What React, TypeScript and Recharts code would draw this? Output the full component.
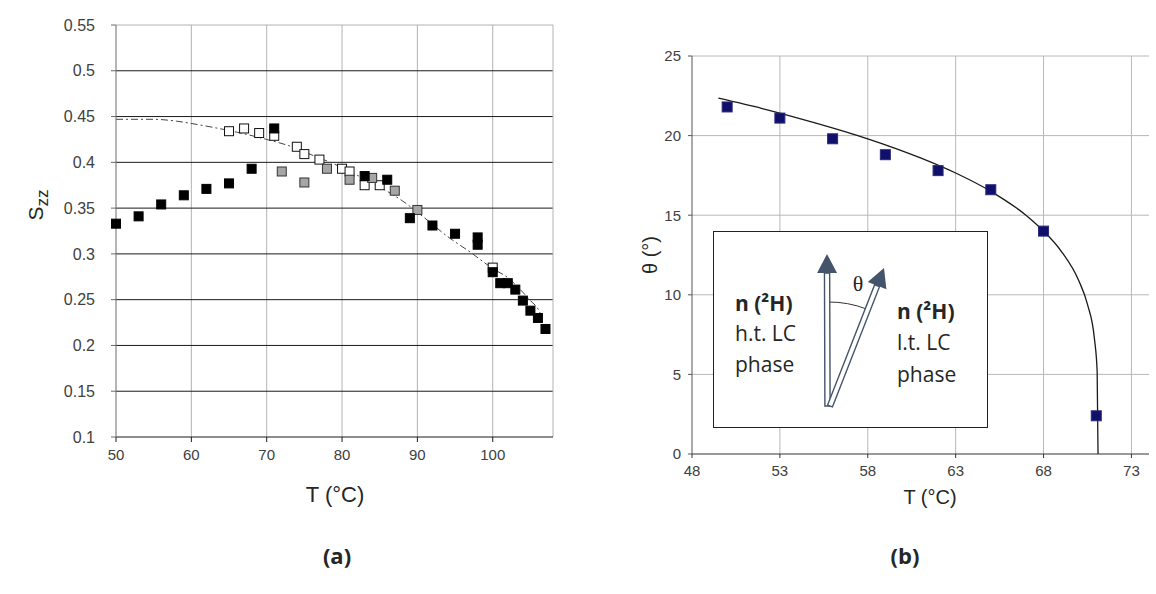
import React from 'react';
import {
  ComposedChart,
  Scatter,
  Line,
  XAxis,
  YAxis,
  CartesianGrid,
  ReferenceLine
} from 'recharts';

// (a) order parameter S_zz against temperature, three sample sets plus the dashed guide
const blackT = [50, 53, 56, 59, 62, 65, 68, 71, 83, 86, 89, 92, 95, 98, 98, 100, 101, 102, 103, 104, 105, 106, 107];
const blackS = [0.333, 0.341, 0.354, 0.364, 0.371, 0.377, 0.393, 0.437, 0.385, 0.381, 0.339, 0.331, 0.322, 0.318, 0.31, 0.28, 0.268, 0.268, 0.261, 0.249, 0.238, 0.23, 0.218];
const whiteT = [65, 67, 69, 71, 74, 75, 77, 80, 81, 83, 85, 100];
const whiteS = [0.434, 0.437, 0.432, 0.429, 0.417, 0.409, 0.403, 0.393, 0.39, 0.375, 0.375, 0.285];
const greyT = [72, 75, 78, 81, 84, 87, 90];
const greyS = [0.39, 0.378, 0.393, 0.381, 0.383, 0.369, 0.348];
const guideT = [50, 55, 58, 61, 63, 66, 70, 73, 76, 79, 82, 85, 88, 91, 94, 97, 100, 102, 104, 105, 106, 106.5];
const guideS = [0.447, 0.447, 0.445, 0.441, 0.438, 0.433, 0.425, 0.418, 0.408, 0.398, 0.386, 0.373, 0.358, 0.339, 0.319, 0.302, 0.284, 0.274, 0.258, 0.249, 0.24, 0.232];
const sTicksX = [50, 60, 70, 80, 90, 100];
const sTicksY = [0.1, 0.15, 0.2, 0.25, 0.3, 0.35, 0.4, 0.45, 0.5, 0.55];

// (b) tilt angle theta against temperature, with the fitted curve
const thetaT = [50, 53, 56, 59, 62, 65, 68, 71];
const thetaDeg = [21.8, 21.1, 19.8, 18.8, 17.8, 16.6, 14.0, 2.4];
const fitT = [49.5, 52, 55, 58, 61, 63, 65, 67, 68, 69, 70, 70.5, 70.9, 71.05, 71.1];
const fitDeg = [22.35, 21.7, 20.8, 19.8, 18.6, 17.65, 16.5, 15.0, 14.0, 12.75, 10.9, 9.4, 7.2, 5.2, 0];
const thTicksX = [48, 53, 58, 63, 68, 73];
const thTicksY = [0, 5, 10, 15, 20, 25];

const zip = (xs: number[], ys: number[]) => xs.map((t, i) => ({ t, v: ys[i] }));

const square = (fill: string, stroke: string, size: number) => (props: any) => (
  <rect
    x={props.cx - size / 2}
    y={props.cy - size / 2}
    width={size}
    height={size}
    fill={fill}
    stroke={stroke}
    strokeWidth={1}
  />
);

const SANS = '"Liberation Sans", Arial, sans-serif';
const CAL = '"Open Sans", sans-serif';
const SLATE = '#44546a';

// hollow double-line arrow with a solid head
const Arrow = ({ x0, y0, x1, y1 }: { x0: number; y0: number; x1: number; y1: number }) => {
  const len = Math.hypot(x1 - x0, y1 - y0);
  const ux = (x1 - x0) / len;
  const uy = (y1 - y0) / len;
  const px = -uy;
  const py = ux;
  const head = 19;
  const hw = 10;
  const sw = 2.6;
  const bx = x1 - ux * head;
  const by = y1 - uy * head;
  const shaft = [
    [x0 + px * sw, y0 + py * sw],
    [bx + px * sw, by + py * sw],
    [bx - px * sw, by - py * sw],
    [x0 - px * sw, y0 - py * sw]
  ].map((p) => p.join(',')).join(' ');
  const tri = [
    [x1, y1],
    [bx + px * hw, by + py * hw],
    [bx - px * hw, by - py * hw]
  ].map((p) => p.join(',')).join(' ');
  return (
    <g>
      <polygon points={shaft} fill="#fff" stroke={SLATE} strokeWidth={1.4} />
      <polygon points={tri} fill={SLATE} />
    </g>
  );
};

const Inset = () => (
  <div
    style={{
      position: 'absolute',
      left: 713,
      top: 231,
      width: 275,
      height: 197,
      boxSizing: 'border-box',
      border: '1px solid #222',
      background: '#fff'
    }}
  >
    <svg width={273} height={195} style={{ display: 'block' }}>
      <g fontFamily={CAL} fontSize={21} fill="#262626">
        <text x={21} y={79} fontWeight="bold">n (²H)</text>
        <text x={21} y={109}>h.t. LC</text>
        <text x={21} y={140}>phase</text>
        <text x={183} y={87} fontWeight="bold">n (²H)</text>
        <text x={183} y={118}>l.t. LC</text>
        <text x={183} y={150}>phase</text>
      </g>
      <path d="M 114 70 A 104 104 0 0 1 152.5 77" fill="none" stroke="#333" strokeWidth={1} />
      <Arrow x0={113.5} y0={174} x1={113} y1={22} />
      <Arrow x0={116} y0={174} x1={170} y1={36} />
      <text x={144} y={59} textAnchor="middle" fontFamily='"Liberation Serif", serif' fontSize={22} fill="#262626">
        θ
      </text>
    </svg>
  </div>
);

const Title = ({ x, y, children, rotate, style }: any) => (
  <div
    style={{
      position: 'absolute',
      left: x,
      top: y,
      transform: `translate(-50%, -50%)${rotate ? ' rotate(-90deg)' : ''}`,
      whiteSpace: 'nowrap',
      color: '#262626',
      fontFamily: SANS,
      fontSize: 21,
      ...style
    }}
  >
    {children}
  </div>
);

export default function App() {
  const black = zip(blackT, blackS);
  const white = zip(whiteT, whiteS);
  const grey = zip(greyT, greyS);
  const guide = zip(guideT, guideS);
  const points = zip(thetaT, thetaDeg);
  const fit = zip(fitT, fitDeg);

  return (
    <div style={{ position: 'absolute', left: 0, top: 0, width: 1156, height: 594, background: '#fff', overflow: 'hidden' }}>
      <div style={{ position: 'absolute', left: 0, top: 0 }}>
        <ComposedChart width={580} height={490} margin={{ top: 25, right: 27, left: 46, bottom: 23 }}>
          <CartesianGrid horizontal={false} stroke="#b3b3b3" verticalValues={[60, 70, 80, 90, 100]} />
          <CartesianGrid vertical={false} stroke="#1a1a1a" horizontalValues={[0.15, 0.2, 0.25, 0.3, 0.35, 0.4, 0.45, 0.5]} />
          <ReferenceLine y={0.55} stroke="#b3b3b3" />
          <ReferenceLine x={108} stroke="#b3b3b3" />
          <XAxis
            type="number"
            dataKey="t"
            domain={[50, 108]}
            ticks={sTicksX}
            interval={0}
            height={30}
            stroke="#1a1a1a"
            tickSize={5}
            tickMargin={7}
            tick={{ fill: '#404040', fontSize: 15, fontFamily: SANS }}
          />
          <YAxis
            type="number"
            dataKey="v"
            domain={[0.1, 0.55]}
            ticks={sTicksY}
            interval={0}
            width={70}
            stroke="#6a6a6a"
            tickSize={5}
            tickMargin={16}
            tick={{ fill: '#404040', fontSize: 16, fontFamily: SANS }}
          />
          <Scatter data={white} dataKey="v" shape={square('#fff', '#111', 9)} isAnimationActive={false} />
          <Line
            data={guide}
            dataKey="v"
            type="monotone"
            stroke="#444"
            strokeWidth={1}
            strokeDasharray="7 3 2 3"
            dot={false}
            isAnimationActive={false}
          />
          <Scatter data={grey} dataKey="v" shape={square('#a6a6a6', '#333', 9)} isAnimationActive={false} />
          <Scatter data={black} dataKey="v" shape={square('#000', '#000', 9)} isAnimationActive={false} />
        </ComposedChart>
      </div>

      <div style={{ position: 'absolute', left: 600, top: 0 }}>
        <ComposedChart width={556} height={490} margin={{ top: 56, right: 7, left: 32, bottom: 6 }}>
          <CartesianGrid stroke="#b8b8b8" verticalValues={[53, 58, 63, 68, 73]} horizontalValues={[5, 10, 15, 20, 25]} />
          <XAxis
            type="number"
            dataKey="t"
            domain={[48, 74]}
            ticks={thTicksX}
            interval={0}
            height={30}
            stroke="#333"
            tickSize={4}
            tickMargin={7}
            tick={{ fill: '#404040', fontSize: 15, fontFamily: SANS }}
          />
          <YAxis
            type="number"
            dataKey="v"
            domain={[0, 25]}
            ticks={thTicksY}
            interval={0}
            width={60}
            stroke="#555"
            tickSize={4}
            tickMargin={7}
            tick={{ fill: '#404040', fontSize: 15, fontFamily: SANS }}
          />
          <Line data={fit} dataKey="v" type="monotone" stroke="#1a1a1a" strokeWidth={1.3} dot={false} isAnimationActive={false} />
          <Scatter data={points} dataKey="v" shape={square('#10106a', '#2a2a80', 10)} isAnimationActive={false} />
        </ComposedChart>
      </div>

      <Inset />

      <Title x={36} y={205} rotate>
        S<span style={{ fontSize: 17, position: 'relative', top: 5 }}>zz</span>
      </Title>
      <Title x={335} y={495} style={{ fontSize: 22 }}>T (°C)</Title>
      <Title x={650} y={255} rotate style={{ fontSize: 20 }}>θ (°)</Title>
      <Title x={930} y={497} style={{ fontSize: 20 }}>T (°C)</Title>
      <Title x={337} y={555} style={{ fontFamily: CAL, fontWeight: 'bold', fontSize: 22 }}>(a)</Title>
      <Title x={905} y={555} style={{ fontFamily: CAL, fontWeight: 'bold', fontSize: 22 }}>(b)</Title>
    </div>
  );
}
